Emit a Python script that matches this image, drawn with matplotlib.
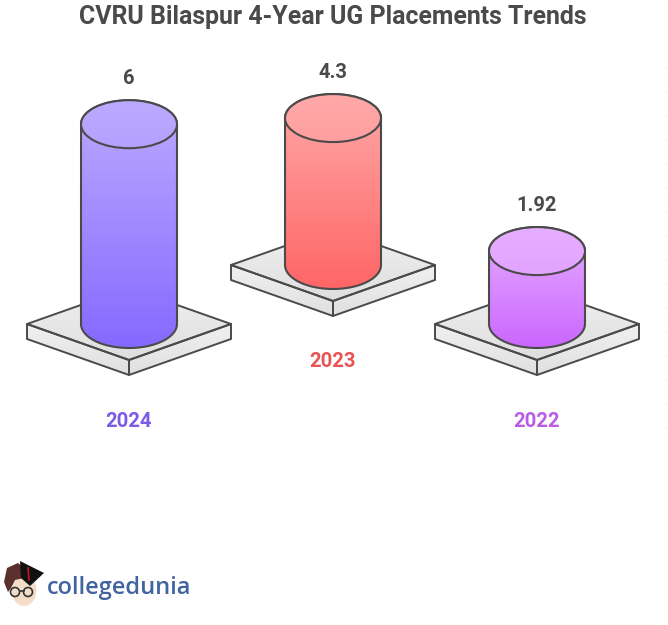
import matplotlib
matplotlib.use("Agg")
import matplotlib.pyplot as plt
import numpy as np
from matplotlib.colors import LinearSegmentedColormap
from matplotlib.patches import Circle, Ellipse, PathPatch, Polygon
from matplotlib.path import Path

years = ["2024", "2023", "2022"]
values = [6, 4.3, 1.92]
value_labels = ["6", "4.3", "1.92"]
centers = [129, 333, 537]
floors = [324, 265, 324]
year_y = [421.5, 361.5, 421.5]
top_colors = ["#bcaaff", "#ffa8a8", "#e6aeff"]
bottom_colors = ["#8569ff", "#ff6666", "#cb66ff"]
year_colors = ["#7c5ce6", "#e85555", "#bb5ce6"]

dark = "#4a4a4a"
plt.rcParams["font.family"] = ["Roboto", "DejaVu Sans"]

fig = plt.figure(figsize=(6.68, 6.25), dpi=100)
ax = fig.add_axes([0, 0, 1, 1])


def gradient(c1, c2, x0, x1, y0, y1, clip, z):
    cmap = LinearSegmentedColormap.from_list("g", [c1, c2])
    im = ax.imshow(np.linspace(0, 1, 256).reshape(-1, 1), cmap=cmap, aspect="auto",
                   extent=(x0, x1, y1, y0), zorder=z)
    im.set_clip_path(clip)


def ellipse_pts(cx, cy, rx, ry, a0, a1):
    t = np.radians(np.linspace(a0, a1, 80))
    return np.column_stack([cx + rx * np.cos(t), cy + ry * np.sin(t)])


def draw_base(cx, cy):
    w, d, th = 102, 36, 15
    top = [(cx - w, cy), (cx, cy - d), (cx + w, cy), (cx, cy + d)]
    left = [(cx - w, cy), (cx, cy + d), (cx, cy + d + th), (cx - w, cy + th)]
    right = [(cx + w, cy), (cx, cy + d), (cx, cy + d + th), (cx + w, cy + th)]
    for pts, c1, c2 in [(top, "#f0f0f0", "#dedede"), (left, "#f0f0f0", "#e0e0e0"), (right, "#f0f0f0", "#e0e0e0")]:
        outline = Polygon(pts, closed=True, fc="none", ec=dark, lw=1.4, joinstyle="round", zorder=3)
        ax.add_patch(outline)
        ys = [p[1] for p in pts]
        gradient(c1, c2, cx - w, cx + w, min(ys), max(ys), outline, 2)


def draw_cylinder(cx, floor, h, c1, c2):
    rx, ry = 48, 24
    top_y = floor - h
    front = ellipse_pts(cx, floor, rx, ry, 0, 180)
    arc_top = ellipse_pts(cx, top_y, rx, ry, 180, 360)
    body = np.vstack([front, arc_top, front[:1]])
    patch = PathPatch(Path(body, closed=False), fc="none", ec=dark, lw=1.5, zorder=6)
    ax.add_patch(patch)
    gradient(c1, c2, cx - rx, cx + rx, top_y - ry, floor + ry, patch, 5)
    lid = Ellipse((cx, top_y), 2 * rx, 2 * ry, fc="none", ec=dark, lw=1.5, zorder=8)
    ax.add_patch(lid)
    gradient(c1, c2, cx - rx, cx + rx, top_y - ry, top_y + ry + 300, lid, 7)


# height of each cylinder follows its value
for i in range(len(years)):
    h = 13.2 + 31.1 * values[i]
    draw_base(centers[i], floors[i])
    draw_cylinder(centers[i], floors[i], h, top_colors[i], bottom_colors[i])
    ax.text(centers[i], floors[i] - h - 46, value_labels[i], ha="center", va="center",
            fontsize=14.5, fontweight="bold", color=dark)
    ax.text(centers[i], year_y[i], years[i], ha="center", va="center",
            fontsize=14.6, fontweight="bold", color=year_colors[i])

ax.text(333, 17, "CVRU Bilaspur 4-Year UG Placements Trends", ha="center", va="center",
        fontsize=17.9, fontweight="bold", color=dark)

# faint ticks on the right edge
ax.hlines(np.arange(68, 430, 24), 663, 668, color="#f8f8f8", lw=1)

# logo
ax.text(47, 587.5, "collegedunia", ha="left", va="center", fontsize=17.0, fontweight="semibold",
        family="Open Sans", color="#41639f")
ax.add_patch(Ellipse((24, 590), 25, 32, fc="#f3ddc8", ec="none", zorder=2))
ax.add_patch(Polygon([(4, 582), (7, 568), (18, 563), (26, 570), (24, 578), (15, 580), (11, 588), (8, 592)],
                     closed=True, fc="#5a2f2c", ec="none", zorder=3))
ax.add_patch(Polygon([(20, 561), (44, 573), (30, 586), (21, 578)], closed=True, fc="#111111", ec="none", zorder=4))
ax.plot([28, 29], [568, 580], color="#c8161d", lw=1.2, zorder=5)
ax.add_patch(Circle((15, 592), 4.5, fc="none", ec="#333333", lw=1.2, zorder=5))
ax.add_patch(Circle((28, 592), 4.5, fc="none", ec="#333333", lw=1.2, zorder=5))
ax.plot([19.5, 23.5], [591, 591], color="#333333", lw=1.2, zorder=5)

ax.set_xlim(0, 668)
ax.set_ylim(625, 0)
ax.axis("off")
fig.savefig("out.png", dpi=100, facecolor="white")
